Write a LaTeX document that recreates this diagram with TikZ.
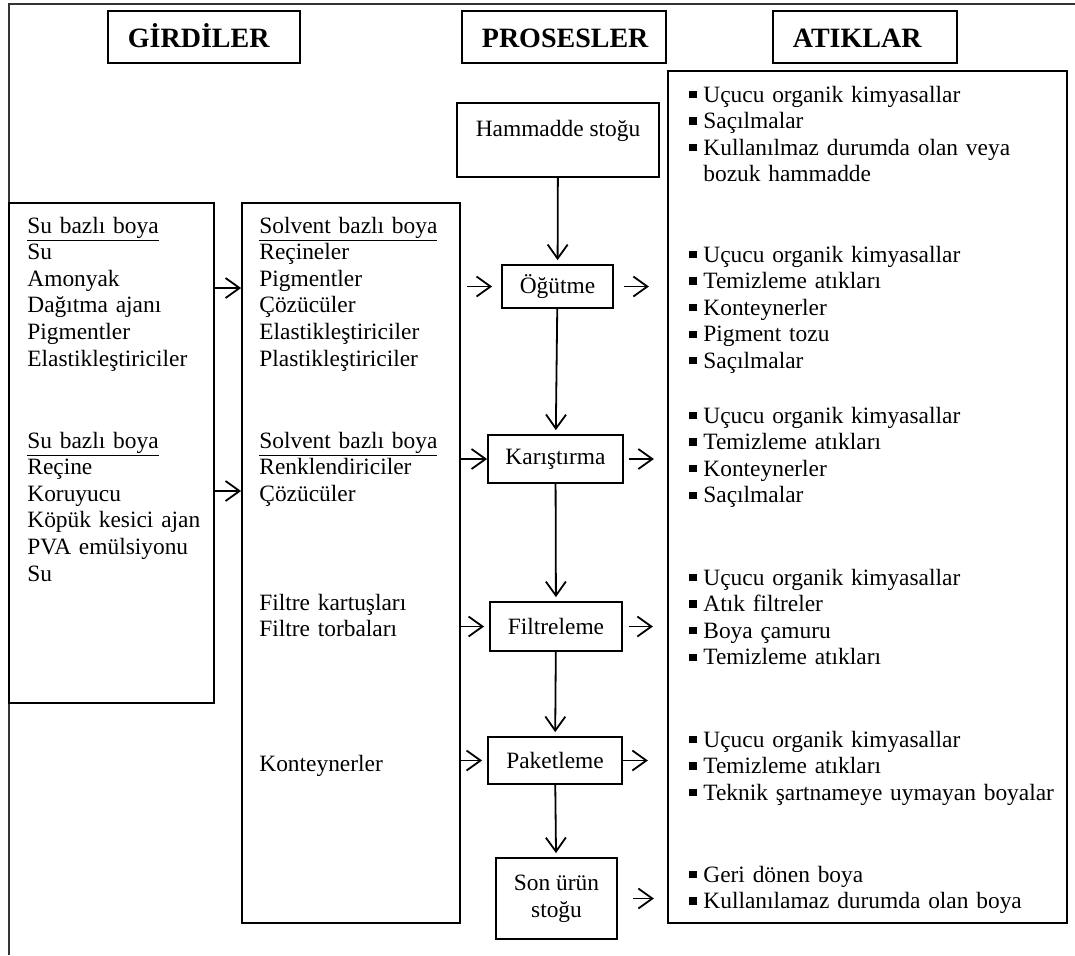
\documentclass[tikz,border=0pt]{standalone}
\usepackage{fontspec}
\setmainfont{Liberation Serif}
\usetikzlibrary{calc,arrows.meta}
\newlength{\px}\setlength{\px}{0.5pt}
% small square bullet
\newcommand{\bul}{\makebox[7pt][l]{\rule[0.17em]{3.6pt}{3.6pt}}}

\begin{document}
\begin{tikzpicture}[x=0.5pt,y=-0.5pt,
  panel/.style 2 args={draw,line width=0.9pt,inner sep=0pt,minimum width=#1\px,minimum height=#2\px,font=\fontsize{11.7pt}{13.3pt}\selectfont},
  hdr/.style={draw,line width=0.9pt,inner xsep=10pt,inner ysep=0pt,minimum height=26pt,anchor=west,text width=#1,text height=10pt,text depth=0pt,align=left,font=\fontsize{14pt}{16pt}\selectfont\bfseries},
  txt/.style={inner sep=0pt,anchor=base west,text width=190pt,align=left,font=\fontsize{11.7pt}{13.3pt}\selectfont},
  arr/.style={line width=0.9pt,-{Straight Barb[length=7pt,width=10pt]}}]
				\useasboundingbox (0,0) rectangle (1075,955);
				
				% outer frame (top and left only)
				\draw[line width=1.2pt,black!80] (9,955) -- (9,4) -- (1075,4);
				
				% column headers
				\node[hdr=76pt] (hgir) at (107,37) {GİRDİLER};
				\node[hdr=82pt] (hpro) at (461,37) {PROSESLER};
				\node[hdr=72pt] (hati) at (772,37) {ATIKLAR};
				
				% large boxes
				\node[panel={205}{500}] (suin) at (111.5,453) {};
				\node[panel={218}{720}] (solin) at (351,563) {};
				\node[panel={399}{852}] (atik) at (867.5,497) {};
				
				% process steps
				\node[panel={202}{74},text depth=12pt] (hamm) at (558,140) {Hammadde stoğu};
				\node[panel={111}{43}] (ogut) at (557.5,286.5) {Öğütme};
				\node[panel={135}{48}] (kar) at (555.5,459) {Karıştırma};
				\node[panel={132}{49}] (filt) at (556,626.5) {Filtreleme};
				\node[panel={134}{47}] (pak) at (555,760.5) {Paketleme};
				\node[panel={121}{81},align=center] (son) at (556.5,898.5) {Son ürün\\stoğu};
				
				% inputs
				\node[txt] (su1) at (27,233) {\underline{Su bazlı boya}\\Su\\Amonyak\\Dağıtma ajanı\\Pigmentler\\Elastikleştiriciler};
				\node[txt] (su2) at (27,448) {\underline{Su bazlı boya}\\Reçine\\Koruyucu\\Köpük kesici ajan\\PVA emülsiyonu\\Su};
				\node[txt] (sol1) at (259,233) {\underline{Solvent bazlı boya}\\Reçineler\\Pigmentler\\Çözücüler\\Elastikleştiriciler\\Plastikleştiriciler};
				\node[txt] (sol2) at (259,448) {\underline{Solvent bazlı boya}\\Renklendiriciler\\Çözücüler};
				\node[txt] (filtin) at (259,610) {Filtre kartuşları\\Filtre torbaları};
				\node[txt] (konin) at (259,771) {Konteynerler};
				
				% wastes
				\node[txt] (at1) at (689,102) {\bul Uçucu organik kimyasallar\\\bul Saçılmalar\\\bul Kullanılmaz durumda olan veya\\\hspace*{7pt}bozuk hammadde};
				\node[txt] (at2) at (689,262) {\bul Uçucu organik kimyasallar\\\bul Temizleme atıkları\\\bul Konteynerler\\\bul Pigment tozu\\\bul Saçılmalar};
				\node[txt] (at3) at (689,423) {\bul Uçucu organik kimyasallar\\\bul Temizleme atıkları\\\bul Konteynerler\\\bul Saçılmalar};
				\node[txt] (at4) at (689,585) {\bul Uçucu organik kimyasallar\\\bul Atık filtreler\\\bul Boya çamuru\\\bul Temizleme atıkları};
				\node[txt] (at5) at (689,747) {\bul Uçucu organik kimyasallar\\\bul Temizleme atıkları\\\bul Teknik şartnameye uymayan boyalar};
				\node[txt] (at6) at (689,882) {\bul Geri dönen boya\\\bul Kullanılamaz durumda olan boya};
				
				% main flow
				\foreach \a/\b in {hamm/ogut,ogut/kar,kar/filt,filt/pak,pak/son}
				\draw[arr,shorten >=2pt] (\a) -- (\b);
				
				% inputs into the steps
				\draw[arr] (suin.east |- 0,288) -- (solin.west |- 0,288);
				\draw[arr] (suin.east |- 0,491) -- (solin.west |- 0,491);
				\draw[arr] ($(ogut.west)+(-34,0)$) -- ($(ogut.west)+(-9,0)$);
				\draw[arr] (solin.east |- kar.west) -- (kar.west);
				\draw[arr] (solin.east |- filt.west) -- ($(filt.west)+(-5,0)$);
				\draw[arr] (solin.east |- pak.west) -- ($(pak.west)+(-5,0)$);
				
				% wastes out of the steps
				\draw[arr] ($(ogut.east)+(10,0)$) -- ($(ogut.east)+(35,0)$);
				\draw[arr] ($(kar.east)+(5,0)$) -- ($(kar.east)+(30,0)$);
				\draw[arr] ($(filt.east)+(6,0)$) -- ($(filt.east)+(30,0)$);
				\draw[arr] (pak.east) -- ++(25,0);
				\draw[arr] ($(son.east)+(15,0)$) -- ($(son.east)+(36,0)$);
				
\end{tikzpicture}
\end{document}
